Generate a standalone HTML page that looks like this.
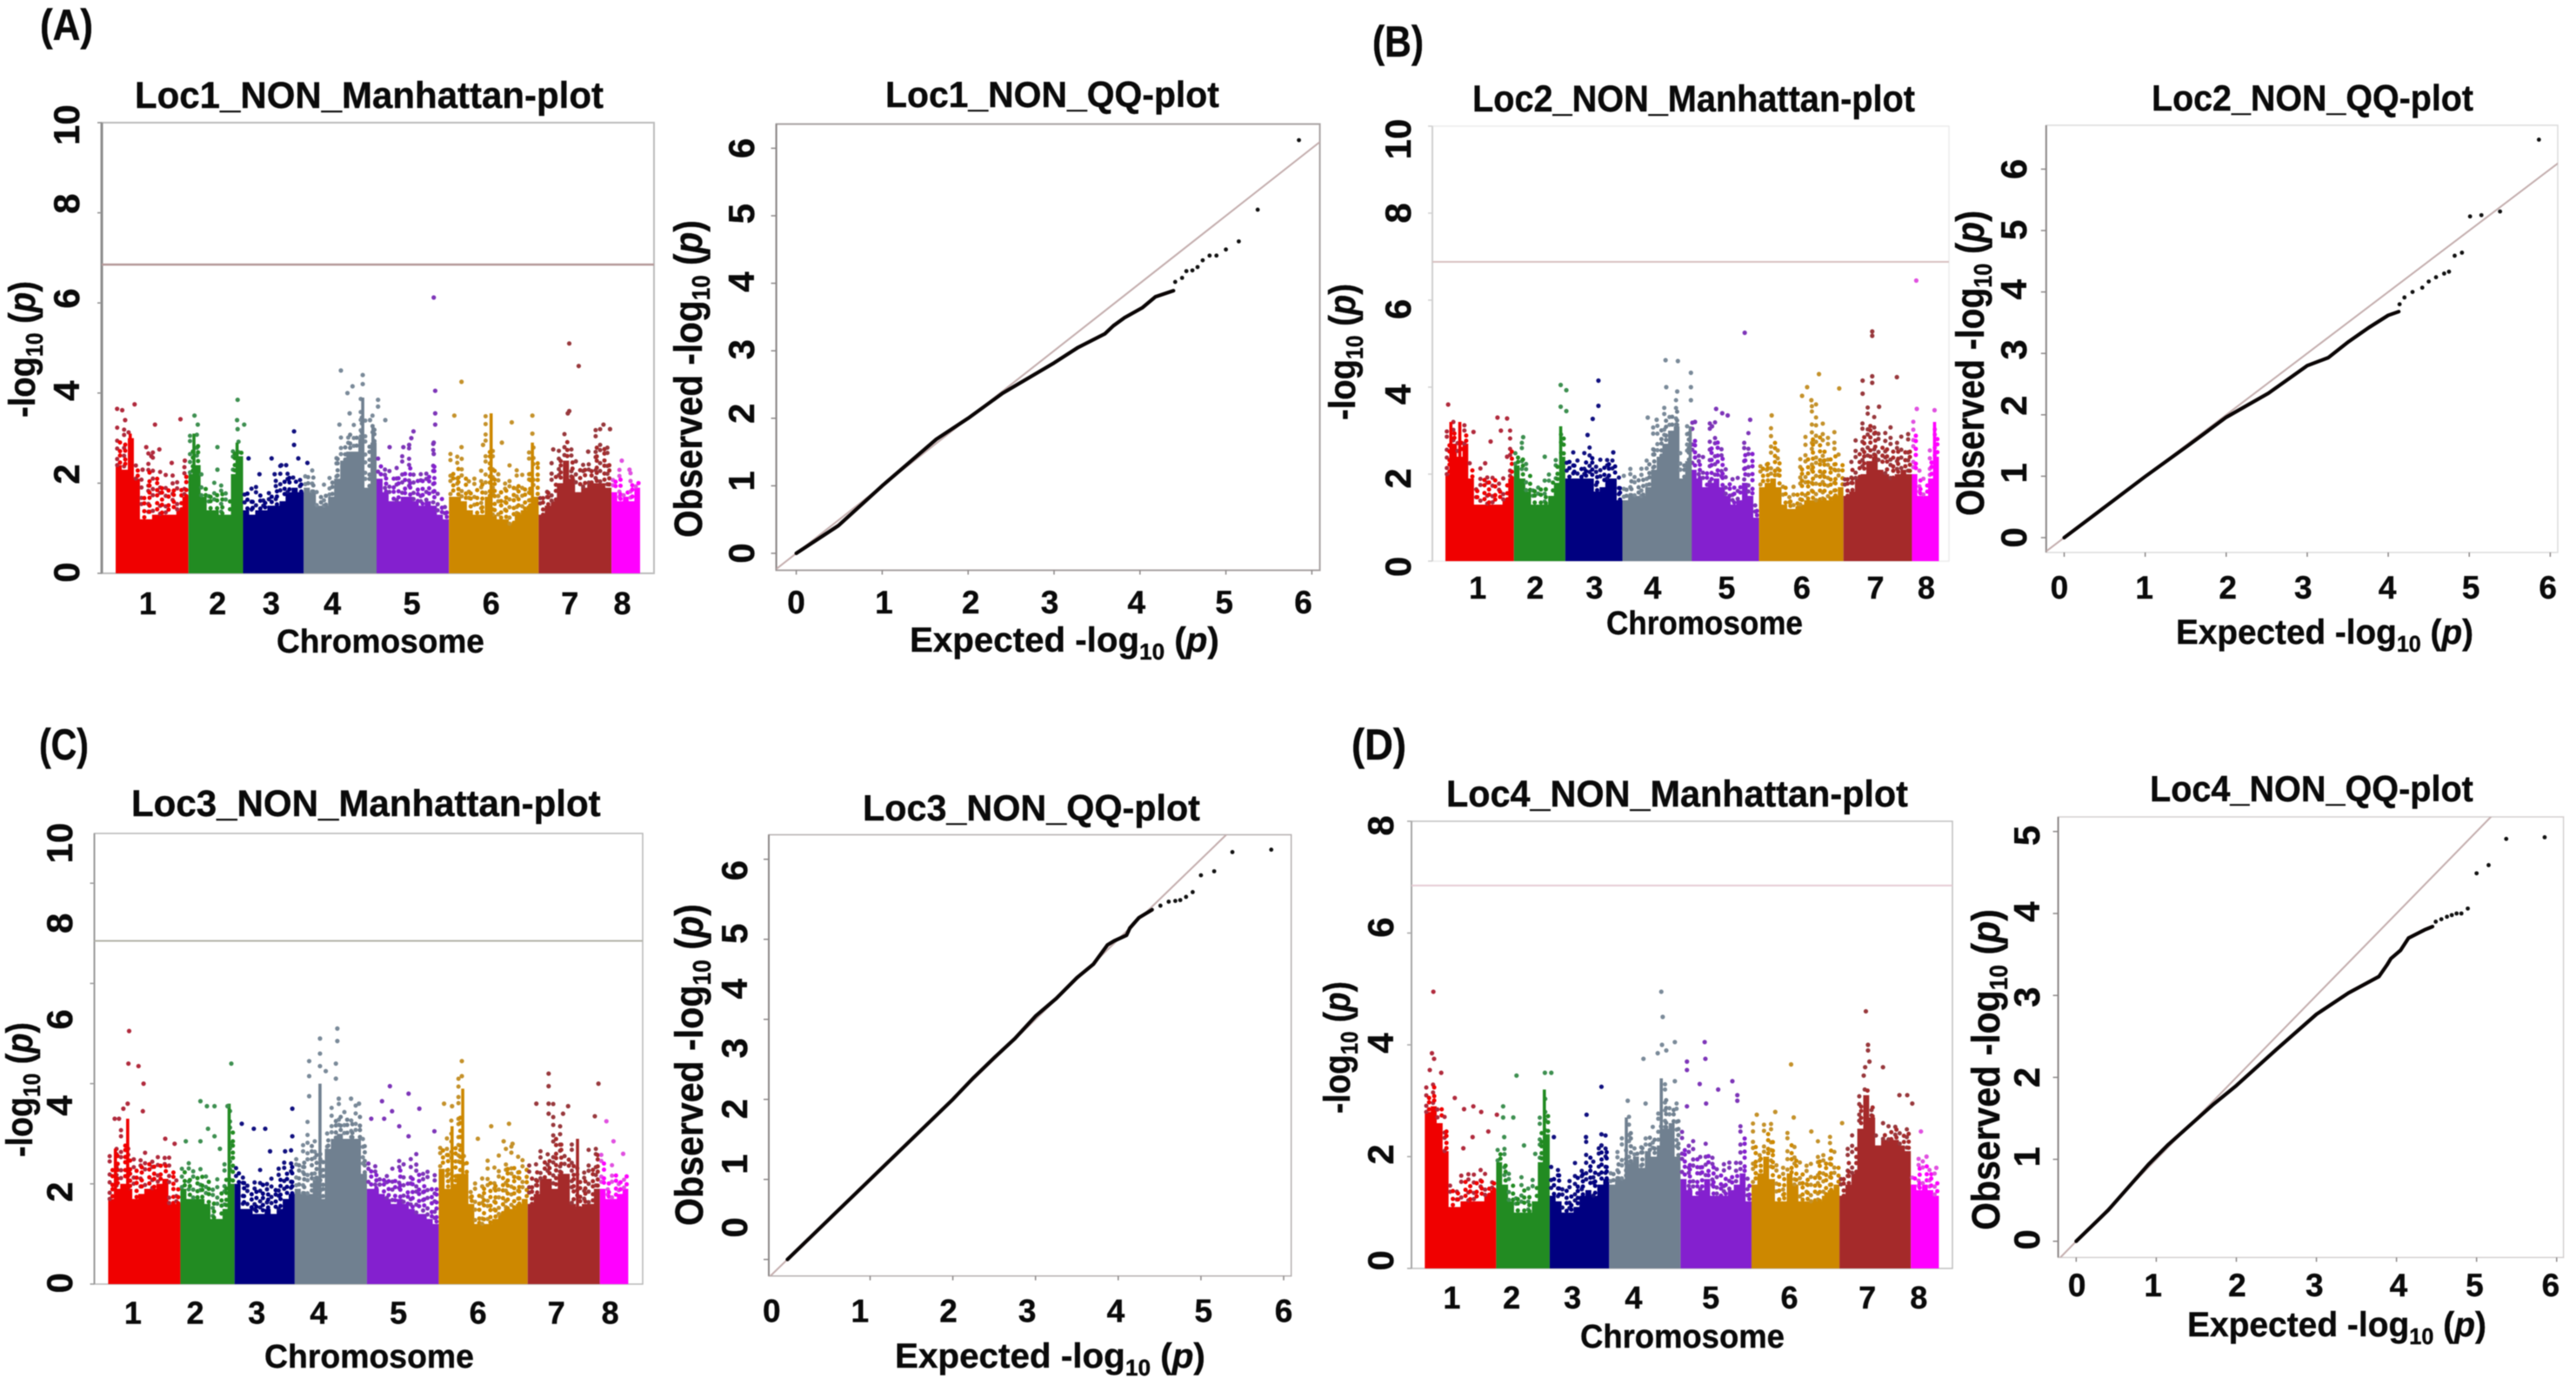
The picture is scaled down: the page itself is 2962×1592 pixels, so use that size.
<!DOCTYPE html>
<html lang="en">
<head>
<meta charset="utf-8">
<title>Manhattan and QQ plots, Loc1 to Loc4</title>
<style>
html,body{margin:0;padding:0;background:#fff;}
svg{display:block;filter:blur(0.5px);}
text{font-family:"Liberation Sans",sans-serif;font-weight:bold;fill:#0a0a0a;stroke:#0a0a0a;stroke-width:0.4px;}
</style>
</head>
<body>
<svg id="figure" xmlns="http://www.w3.org/2000/svg" width="2962" height="1592" viewBox="0 0 2962 1592">
<rect width="2962" height="1592" fill="#fff"/>

<text font-size="50" transform="translate(46,46)" data-fit="61">(A)</text>
<text font-size="50" transform="translate(1578,65)" data-fit="59">(B)</text>
<text font-size="50" transform="translate(45,873)" data-fit="57">(C)</text>
<text font-size="50" transform="translate(1554,873)" data-fit="63">(D)</text>

<text font-size="43" transform="translate(155,124)" data-fit="539">Loc1_NON_Manhattan-plot</text>
<text font-size="42" transform="translate(1018,123)" data-fit="384">Loc1_NON_QQ-plot</text>
<text font-size="43" transform="translate(1693,128)" data-fit="509">Loc2_NON_Manhattan-plot</text>
<text font-size="42" transform="translate(2474,127)" data-fit="370">Loc2_NON_QQ-plot</text>
<text font-size="43" transform="translate(151,938)" data-fit="540">Loc3_NON_Manhattan-plot</text>
<text font-size="42" transform="translate(992,943)" data-fit="388">Loc3_NON_QQ-plot</text>
<text font-size="43" transform="translate(1663,927)" data-fit="531">Loc4_NON_Manhattan-plot</text>
<text font-size="42" transform="translate(2472,921)" data-fit="372">Loc4_NON_QQ-plot</text>

<text font-size="38" transform="translate(318,750)" data-fit="239">Chromosome</text>
<text font-size="38" transform="translate(1847,729)" data-fit="226">Chromosome</text>
<text font-size="38" transform="translate(304,1572)" data-fit="241">Chromosome</text>
<text font-size="38" transform="translate(1817,1549)" data-fit="235">Chromosome</text>

<text font-size="43" transform="translate(40,480) rotate(-90)" data-fit="157">-log<tspan dy="9" font-size="28">10</tspan><tspan dy="-9"> (</tspan><tspan font-style="italic">p</tspan>)</text>
<text font-size="43" transform="translate(1558,483) rotate(-90)" data-fit="157">-log<tspan dy="9" font-size="28">10</tspan><tspan dy="-9"> (</tspan><tspan font-style="italic">p</tspan>)</text>
<text font-size="43" transform="translate(37,1330) rotate(-90)" data-fit="155">-log<tspan dy="9" font-size="28">10</tspan><tspan dy="-9"> (</tspan><tspan font-style="italic">p</tspan>)</text>
<text font-size="43" transform="translate(1552,1280) rotate(-90)" data-fit="152">-log<tspan dy="9" font-size="28">10</tspan><tspan dy="-9"> (</tspan><tspan font-style="italic">p</tspan>)</text>

<text font-size="45" transform="translate(807,618) rotate(-90)" data-fit="365">Observed -log<tspan dy="9" font-size="29">10</tspan><tspan dy="-9"> (</tspan><tspan font-style="italic">p</tspan>)</text>
<text font-size="45" transform="translate(2281,593) rotate(-90)" data-fit="351">Observed -log<tspan dy="9" font-size="29">10</tspan><tspan dy="-9"> (</tspan><tspan font-style="italic">p</tspan>)</text>
<text font-size="45" transform="translate(808,1409) rotate(-90)" data-fit="370">Observed -log<tspan dy="9" font-size="29">10</tspan><tspan dy="-9"> (</tspan><tspan font-style="italic">p</tspan>)</text>
<text font-size="45" transform="translate(2299,1414) rotate(-90)" data-fit="369">Observed -log<tspan dy="9" font-size="29">10</tspan><tspan dy="-9"> (</tspan><tspan font-style="italic">p</tspan>)</text>

<text font-size="40" transform="translate(1046,749)" data-fit="356">Expected -log<tspan dy="9" font-size="26">10</tspan><tspan dy="-9"> (</tspan><tspan font-style="italic">p</tspan>)</text>
<text font-size="40" transform="translate(2502,740)" data-fit="342">Expected -log<tspan dy="9" font-size="26">10</tspan><tspan dy="-9"> (</tspan><tspan font-style="italic">p</tspan>)</text>
<text font-size="40" transform="translate(1029,1572)" data-fit="357">Expected -log<tspan dy="9" font-size="26">10</tspan><tspan dy="-9"> (</tspan><tspan font-style="italic">p</tspan>)</text>
<text font-size="40" transform="translate(2515,1536)" data-fit="344">Expected -log<tspan dy="9" font-size="26">10</tspan><tspan dy="-9"> (</tspan><tspan font-style="italic">p</tspan>)</text>

<g id="plots"></g>
</svg>

<script>
// ---------- shared chromosome data ----------
const chromNames = ['1','2','3','4','5','6','7','8'];
const chromLengths = [168,126,140,168,167,207,168,66];
const chromColors = ['#f00000','#228b22','#000080','#708090','#8420cf','#cd8800','#a52a2a','#ff00ff'];
const peakColors = ['#b02a3c','#3d8f50','#10107f','#7a8a99','#7d35b8','#c4912a','#98383c','#e050e0'];

// ---------- Manhattan tick values and printed labels ----------
const manhattanTicksTall = [0,2,4,6,8,10];
const manhattanTicksC = [0,2,4,6,8];
const manhattanTicksD = [0,2,4,6,8];
const manhattanLabelsTall = ['0','2','4','6','8','10'];
const manhattanLabelsD = ['0','2','4','6','8'];
const manhattanLabelAtA = [0.02,2.2,4.05,6.1,8.2,9.95];
const manhattanLabelAtB = [-0.13,1.9,3.83,5.79,8.0,9.7];
const manhattanLabelAtC = [0.02,1.84,3.56,5.28,7.2,8.8];
const manhattanLabelAtD = [0.14,2.04,4.03,6.1,7.92];

// ---------- Loc1 Manhattan: solid tops, dotted fringe tops, spikes, peak points ----------
const solidA = [
 [2.4,2.3,3.0,2.1,1.2,1.2,1.3,1.3,1.3,1.3,1.4,1.7],
 [2.2,2.4,1.7,1.4,1.4,1.3,1.3,2.2,2.6],
 [1.4,1.3,1.4,1.4,1.5,1.5,1.6,1.8,1.9,1.8],
 [1.9,1.8,1.5,1.5,1.7,2.1,2.5,2.7,2.7,3.0,1.9,2.9],
 [2.1,1.8,1.6,1.6,1.7,1.7,1.6,1.5,1.6,1.5,1.3,1.2],
 [1.7,1.7,1.6,1.4,1.3,1.3,1.7,1.3,1.2,1.2,1.1,1.3,1.4,1.5,1.7],
 [1.3,1.5,1.6,2.0,2.5,2.1,1.8,1.9,2.0,2.0,2.0,1.9],
 [1.8,1.6,1.7,1.6,1.9]
];
const fringeA = [
 [3.3,3.4,3.2,2.4,2.1,2.8,2.7,2.3,2.2,2.4,2.2,2.5],
 [3.1,3.1,2.2,2.0,2.1,2.1,1.9,2.9,3.0],
 [2.0,1.9,2.0,1.9,1.9,2.2,2.4,2.3,2.2,2.1],
 [2.3,2.3,1.9,2.0,2.2,2.9,3.1,3.3,3.3,3.9,3.4,3.5],
 [2.6,2.4,2.4,2.5,2.7,2.9,2.4,2.4,2.5,3.0,1.9,1.5],
 [2.7,2.8,2.6,2.2,2.2,2.4,3.5,2.9,2.2,2.3,2.4,2.3,2.2,2.8,2.9],
 [1.9,2.1,2.6,2.9,3.2,2.9,2.6,2.6,2.7,3.3,3.2,2.8],
 [2.2,2.5,2.0,2.3,2.1]
];
const spikesA = [[1,0.2,3.1],[2,0.1,3.1],[2,0.89,2.9],[4,0.81,3.9],[4,0.95,3.3],[6,0.47,3.55],[6,0.93,2.9]];
const peaksA = [
 [1,.02,3.65],[1,.09,3.62],[1,.13,3.4],[1,.26,3.75],[1,.42,2.8],[1,.54,3.3],[1,.60,2.75],[1,.77,2.45],[1,.89,3.42],[1,.95,2.5],[1,.49,2.6],[1,.37,2.3],
 [2,.11,3.5],[2,.17,3.3],[2,.53,2.8],[2,.53,2.3],[2,.90,3.85],[2,.89,3.4],[2,1.02,3.3],[2,.9,3.2],
 [3,.09,2.55],[3,.47,2.55],[3,.84,3.15],[3,.84,2.85],[3,.91,2.55],[3,1.06,2.45],[3,.27,2.2],[3,.52,2.2],[3,.63,2.4],[3,.71,2.4],
 [4,.51,4.5],[4,.67,4.15],[4,.60,4.0],[4,.81,4.4],[4,.81,4.2],[4,1.02,3.85],[4,1.02,3.7],[4,1.12,3.4],[4,.63,3.55],[4,.49,3.3],[4,.91,3.4],
 [5,.79,6.12],[5,.81,4.05],[5,.81,3.55],[5,.81,3.3],[5,.51,3.15],[5,.48,3.0],[5,.18,2.8],[5,.37,2.8],[5,.45,2.85],[5,.79,2.9],[5,.79,2.65],
 [6,.14,4.25],[6,.06,3.5],[6,.38,2.85],[6,.59,2.9],[6,.70,3.35],[6,.93,3.5],[6,.93,3.1],[6,.14,2.8],
 [7,.42,5.1],[7,.55,4.6],[7,.42,3.6],[7,.40,3.55],[7,.89,3.3],[7,.98,3.2],[7,.68,2.7],[7,.2,2.75],
 [8,.36,2.5],[8,.63,2.3]
];

// ---------- Loc2 Manhattan ----------
const solidB = [
 [2.0,2.7,2.4,2.7,1.9,1.3,1.3,1.3,1.3,1.3,1.4,1.9],
 [2.2,1.9,1.6,1.3,1.3,1.3,1.5,1.8,2.4],
 [1.9,1.9,1.9,1.9,1.9,1.6,1.7,1.9,1.9,1.4],
 [1.4,1.5,1.5,1.5,1.7,2.1,2.4,2.7,3.0,3.1,1.9,2.3],
 [2.1,1.9,1.7,1.8,1.9,1.7,1.5,1.3,1.4,1.8,1.5,1.0],
 [1.7,1.8,1.9,1.7,1.3,1.2,1.2,1.3,1.4,1.4,1.4,1.4,1.4,1.5,1.7],
 [1.5,1.6,1.9,2.0,2.3,2.4,2.1,2.0,1.9,2.0,2.1,2.0],
 [2.0,1.5,1.5,1.9,2.4]
];
const fringeB = [
 [3.2,3.2,3.0,3.2,2.3,1.9,2.3,2.1,2.2,2.0,2.0,3.0],
 [2.6,2.8,2.3,1.8,1.9,1.9,2.1,2.4,3.1],
 [2.5,2.5,2.4,2.6,2.8,2.2,2.4,2.6,2.5,2.0],
 [2.0,2.2,2.2,2.2,2.6,3.1,3.4,3.6,3.5,3.7,2.5,3.3],
 [3.2,2.6,2.4,3.3,3.3,2.8,2.2,2.0,2.0,2.9,3.0,1.4],
 [2.4,2.5,3.3,2.6,1.9,1.6,1.9,2.6,3.0,3.6,3.7,3.2,2.9,3.0,2.5],
 [2.2,2.4,2.9,3.5,3.6,3.4,3.0,3.0,3.1,2.8,2.9,3.0],
 [3.5,2.1,1.9,2.6,3.2]
];
const spikesB = [[1,0.08,3.2],[1,0.21,3.2],[2,0.91,3.1],[4,0.99,3.1],[8,0.84,3.2]];
const peaksB = [
 [1,.04,3.6],[1,.41,2.97],[1,.66,2.75],[1,.76,3.3],[1,.90,3.28],[1,.81,3.0],[1,.58,2.25],[1,.9,2.4],
 [2,.91,4.05],[2,1.02,3.93],[2,.91,3.55],[2,1.02,3.45],[2,.18,2.85],[2,.6,2.4],
 [3,.58,4.15],[3,.58,3.57],[3,.48,3.27],[3,.39,2.9],[3,.84,2.5],
 [4,.63,4.62],[4,.81,4.6],[4,1.0,4.33],[4,1.0,4.0],[4,.64,4.0],[4,.80,3.9],[4,.37,3.3],[4,.5,3.25],[4,1.0,3.7],
 [5,.37,3.5],[5,.54,3.35],[5,.87,3.25],[5,.31,3.1],[5,.46,3.4],[5,.06,3.2],[5,.79,5.25],
 [6,.71,4.3],[6,.57,4.0],[6,.51,3.8],[6,.95,3.97],[6,.15,3.35],[6,.62,3.7],
 [7,.42,5.28],[7,.42,5.18],[7,.42,4.25],[7,.42,4.1],[7,.28,4.15],[7,.28,3.85],[7,.78,4.23],[7,.52,3.55],
 [8,.16,6.45],[8,.18,3.5],[8,.84,3.47]
];

// ---------- Loc3 Manhattan ----------
const solidC = [
 [1.7,1.9,2.0,1.9,1.7,1.8,1.9,1.9,2.0,2.1,1.6,1.6],
 [1.9,1.7,1.7,1.7,1.6,1.3,1.3,1.5,2.0],
 [2.0,1.5,1.5,1.4,1.4,1.5,1.4,1.5,1.7,1.8],
 [1.9,1.8,1.8,2.1,1.7,2.7,2.9,3.0,2.9,2.9,2.9,2.2],
 [1.9,1.9,1.8,1.7,1.6,1.7,1.6,1.5,1.4,1.4,1.3,1.2],
 [2.3,1.9,2.0,2.2,2.2,1.6,1.2,1.2,1.2,1.3,1.4,1.5,1.5,1.6,1.7],
 [1.6,1.8,2.1,2.1,1.9,2.2,2.2,1.6,1.5,1.6,1.6,1.9],
 [1.9,1.7,1.7,1.8,1.9]
];
const fringeC = [
 [2.7,3.0,3.2,2.8,2.6,2.7,2.7,2.7,2.7,2.7,2.7,2.1],
 [2.5,2.5,2.4,2.4,2.3,1.9,2.1,2.5,3.6],
 [2.4,2.3,2.1,2.1,2.3,2.1,2.2,2.4,2.6,2.7],
 [2.7,2.8,3.3,2.9,2.9,3.1,3.6,3.7,3.5,3.4,3.6,3.1],
 [2.5,2.4,2.4,2.3,2.4,2.6,2.4,2.6,2.6,2.4,2.3,2.3],
 [2.9,3.0,3.3,4.1,2.7,2.0,2.1,2.3,2.5,2.4,2.6,2.8,2.8,2.6,2.6],
 [2.5,2.5,2.7,2.7,3.6,3.3,2.8,2.8,2.5,2.4,2.7,3.0],
 [2.7,2.2,2.5,2.2,2.3]
];
const spikesC = [[1,0.27,3.3],[1,0.1,2.7],[2,0.9,3.6],[4,0.35,4.0],[6,0.27,3.9],[6,0.15,3.15],[7,0.69,2.9]];
const peaksC = [
 [1,.29,5.05],[1,.28,4.4],[1,.42,4.35],[1,.49,4.0],[1,.27,3.6],[1,.21,3.5],[1,.48,3.45],[1,.09,3.3],[1,.15,3.3],[1,.79,2.9],[1,.92,2.8],
 [2,.94,4.4],[2,.37,3.65],[2,.49,3.55],[2,.63,3.55],[2,.87,3.55],[2,.51,3.1],[2,.63,2.95],[2,.1,2.85],[2,.37,2.85],[2,.73,2.7],
 [3,.96,3.5],[3,.12,3.2],[3,.32,3.1],[3,.51,3.1],[3,.96,2.95],[3,.59,2.65],[3,.84,2.65],
 [4,.35,4.9],[4,.35,4.6],[4,.35,4.35],[4,.2,4.45],[4,.2,4.15],[4,.2,3.75],[4,.59,5.1],[4,.59,4.85],[4,.57,4.4],[4,.57,4.1],[4,.43,4.25],[4,.78,3.7],[4,.61,3.7],[4,.89,3.6],
 [5,.32,3.95],[5,.58,3.8],[5,.21,3.65],[5,.35,3.45],[5,.73,3.5],[5,.06,3.3],[5,.45,3.15],[5,.58,2.95],[5,.94,3.05],[5,.24,3.3],
 [6,.26,4.45],[6,.26,4.15],[6,.06,3.6],[6,.15,3.55],[6,.59,3.15],[6,.79,3.2],[6,.44,2.9],[6,.73,2.85],[6,.83,2.8],
 [7,.29,4.2],[7,.29,3.95],[7,.12,3.6],[7,.29,3.6],[7,.29,3.4],[7,.56,3.55],[7,.49,3.4],[7,.98,4.0],[7,.93,3.35],
 [8,.23,3.25],[8,.48,2.85],[8,.82,2.6]
];

// ---------- Loc4 Manhattan ----------
const solidD = [
 [2.8,2.9,2.6,2.1,1.1,1.1,1.2,1.2,1.2,1.2,1.3,1.4],
 [1.9,1.5,1.2,1.0,1.0,1.0,1.2,1.9,2.4],
 [1.3,1.2,1.0,1.0,1.1,1.3,1.4,1.3,1.5,1.6],
 [1.5,1.6,1.6,1.9,2.0,1.8,2.1,2.0,2.2,2.5,2.6,2.0],
 [1.6,1.4,1.3,1.4,1.6,1.3,1.3,1.3,1.4,1.5,1.7,1.2],
 [1.5,1.7,2.0,1.6,1.2,1.2,1.7,1.5,1.2,1.2,1.2,1.2,1.3,1.4,1.5],
 [1.3,1.5,1.7,2.5,3.1,2.7,2.2,2.3,2.3,2.3,2.2,2.1],
 [1.5,1.4,1.5,1.4,1.3]
];
const fringeD = [
 [3.4,3.5,3.0,2.8,1.6,1.6,1.8,1.8,1.8,1.8,1.7,1.8],
 [2.2,2.2,1.7,1.4,1.7,1.5,1.7,2.7,3.1],
 [1.9,2.0,1.6,1.6,1.9,2.0,2.3,2.0,2.4,2.4],
 [1.9,2.1,2.4,2.8,2.2,2.4,2.5,2.6,2.9,3.4,3.0,3.0],
 [2.6,2.3,2.4,2.1,2.3,2.1,1.9,1.9,1.9,1.9,2.8,1.7],
 [2.7,2.2,2.7,2.7,1.9,1.9,2.6,2.3,2.0,1.9,1.9,2.3,2.3,2.5,2.1],
 [1.8,2.2,2.4,3.2,3.3,3.0,2.4,2.6,2.6,2.7,2.5,2.7],
 [1.7,2.0,2.0,1.9,1.7]
];
const spikesD = [[2,0.9,3.2],[4,0.24,2.7],[4,0.73,3.4]];
const peaksD = [
 [1,.12,4.95],[1,.10,3.85],[1,.13,3.75],[1,.07,3.55],[1,.23,3.5],[1,.42,3.05],[1,.55,2.85],[1,.68,2.9],[1,.79,2.8],[1,1.01,2.75],[1,.67,2.35],[1,.89,2.45],[1,.54,2.15],
 [2,.38,3.45],[2,.91,3.5],[2,1.03,3.5],[2,.13,2.9],[2,.13,2.7],[2,.32,2.7],[2,.15,2.35],[2,.52,2.2],[2,.73,2.05],
 [3,.87,3.25],[3,.62,2.75],[3,.61,2.35],[3,.87,2.4],[3,.87,2.2],[3,.07,2.35],
 [4,.73,4.95],[4,.75,4.5],[4,.92,4.05],[4,.74,4.0],[4,.80,3.9],[4,.48,3.75],[4,.68,3.85],[4,.26,3.0],[4,.51,2.95],[4,.92,3.35],
 [5,.34,4.05],[5,.35,3.75],[5,.09,3.7],[5,.09,3.55],[5,.27,3.3],[5,.53,3.2],[5,.73,3.35],[5,.80,3.1],[5,.36,2.95],[5,.09,2.9],[5,.8,3.0],
 [6,.45,3.65],[6,.27,2.8],[6,.48,2.7],[6,1.03,2.6],[6,.68,2.45],[6,.06,2.75],
 [7,.37,4.6],[7,.40,4.0],[7,.40,3.9],[7,.42,3.7],[7,.36,3.6],[7,.61,3.6],[7,.34,3.45],[7,.84,3.1],[7,.95,3.1],[7,1.02,2.95],
 [8,.36,2.45],[8,.56,2.0],[8,.91,1.8]
];

// ---------- QQ tick values and printed labels ----------
const qqXTicks = [0,1,2,3,4,5,6];
const qqYTicksA = [0,1,2,3,4,5,6];
const qqYTicksB = [0,1,2,3,4,5,6];
const qqYTicksC = [0,1,2,3,4,5];
const qqYTicksD = [0,1,2,3,4,5];
const qqXTicksC = [1,2,3,4,5,6];
const qqXLabels = ['0','1','2','3','4','5','6'];
const qqYLabels6 = ['0','1','2','3','4','5','6'];
const qqYLabels5 = ['0','1','2','3','4','5'];
const qqXLabelAtA = [0,1.02,2.03,2.95,3.96,4.98,5.9];
const qqYLabelAtA = [0,1.07,2.07,3.02,4.02,5.03,6.0];
const qqXLabelAtB = [-0.06,.99,2.02,2.95,3.99,5.02,5.97];
const qqYLabelAtB = [0,1.05,2.15,3.06,4.04,5.01,6.0];
const qqXLabelAtC = [-0.19,.877,1.947,2.9,3.97,5.03,6.0];
const qqYLabelAtC = [.4,1.19,1.88,2.64,3.38,4.07,4.86];
const qqXLabelAtD = [.01,.96,2.01,2.975,4.025,4.975,5.925];
const qqYLabelAtD = [.02,1.03,2.0,2.98,4.02,4.95];

// ---------- QQ curves: dense body, then separate tail points ----------
const expectedA = [0,.49,1.0,1.63,2,2.4,3,3.28,3.59,3.69,3.82,4.03,4.18,4.39];
const observedA = [0,.41,1.0,1.69,2,2.37,2.82,3.05,3.25,3.37,3.49,3.64,3.80,3.89];
const tailExpectedA = [4.41,4.49,4.54,4.61,4.67,4.73,4.81,4.89,5.0,5.15,5.37,5.85];
const tailObservedA = [4.02,4.08,4.18,4.19,4.24,4.34,4.41,4.41,4.50,4.62,5.09,6.12];

const expectedB = [0,1.0,1.53,2.0,2.52,3.0,3.26,3.51,3.76,4.0,4.13];
const observedB = [0,.995,1.50,1.96,2.35,2.80,2.93,3.19,3.42,3.62,3.68];
const tailExpectedB = [4.14,4.20,4.30,4.42,4.50,4.59,4.69,4.75,4.82,4.91,5.01,5.15,5.38,5.86];
const tailObservedB = [3.80,3.91,4.0,4.07,4.17,4.24,4.30,4.33,4.59,4.64,5.23,5.25,5.31,6.48];

const expectedC = [0,.25,.5,.75,1,1.25,1.5,1.75,2,2.25,2.5,2.75,3,3.25,3.5,3.7,3.87,3.95,4.1,4.14,4.25,4.41];
const observedC = [0,.25,.5,.75,1,1.25,1.5,1.75,2,2.27,2.52,2.76,3.04,3.26,3.52,3.69,3.93,3.98,4.05,4.14,4.27,4.37];
const tailExpectedC = [4.51,4.61,4.69,4.75,4.82,4.90,5.0,5.16,5.38,5.85];
const tailObservedC = [4.42,4.47,4.48,4.49,4.53,4.59,4.80,4.85,5.09,5.12];

const expectedD = [0,.4,.9,1.15,1.7,2.0,2.5,3.0,3.4,3.78,3.88,3.93,4.05,4.15,4.35,4.45];
const observedD = [0,.38,.935,1.18,1.66,1.9,2.34,2.77,3.03,3.23,3.37,3.45,3.55,3.70,3.80,3.84];
const tailExpectedD = [4.49,4.56,4.63,4.69,4.75,4.81,4.89,5.0,5.15,5.37,5.85];
const tailObservedD = [3.90,3.93,3.96,3.98,4.0,4.0,4.06,4.49,4.59,4.91,4.93];

// ---------- layout (pixels, separate from the data) ----------
const manhattanLayouts = [
 {id:'loc1',left:117,right:752,top:141,bottom:659,unit:51.8,xStart:133,xEnd:736,threshold:6.85,thresholdColor:'#b59a9a',thresholdWidth:2.5,leftColor:'#8e8e8e',leftWidth:3,frameColor:'#bdbdbd',frameWidth:2,labelBase:91,chrBase:706,
  chrNudge:[-5,2,-2.5,-9,-1,-3,-6,-4],solid:solidA,fringe:fringeA,spikes:spikesA,peaks:peaksA,ticks:manhattanTicksTall,labels:manhattanLabelsTall,labelAt:manhattanLabelAtA},
 {id:'loc2',left:1647,right:2241,top:145,bottom:645,unit:50,xStart:1662,xEnd:2229.4,threshold:6.88,thresholdColor:'#d8c2c2',thresholdWidth:2,leftColor:'#d0d0d0',leftWidth:2,frameColor:'#ececec',frameWidth:1.5,labelBase:1622,chrBase:688,
  chrNudge:[-2.3,-5,.7,-4.7,2,.7,-2.6,1],solid:solidB,fringe:fringeB,spikes:spikesB,peaks:peaksB,ticks:manhattanTicksTall,labels:manhattanLabelsTall,labelAt:manhattanLabelAtB},
 {id:'loc3',left:108.5,right:739,top:958,bottom:1476,unit:57.6,xStart:124.4,xEnd:722.4,threshold:6.85,thresholdColor:'#b3b3aa',thresholdWidth:2,leftColor:'#9a9a9a',leftWidth:2,frameColor:'#b8b8b8',frameWidth:1.5,labelBase:83,chrBase:1521.6,
  chrNudge:[-13,-14,-9,-14,-5,-6,-8.5,-4.5],solid:solidC,fringe:fringeC,spikes:spikesC,peaks:peaksC,ticks:manhattanTicksC,labels:manhattanLabelsTall,labelAt:manhattanLabelAtC},
 {id:'loc4',left:1623,right:2245,top:944,bottom:1458,unit:64.25,xStart:1638.3,xEnd:2229.4,threshold:6.85,thresholdColor:'#e6ccd4',thresholdWidth:2,leftColor:'#a8a8a8',leftWidth:2,frameColor:'#c0c0c0',frameWidth:1.5,labelBase:1602,chrBase:1504,
  chrNudge:[-10,-13,-8,-13,-6,-7,-9,-7],solid:solidD,fringe:fringeD,spikes:spikesD,peaks:peaksD,ticks:manhattanTicksD,labels:manhattanLabelsD,labelAt:manhattanLabelAtD}
];
const qqLayouts = [
 {id:'loc1',left:892.6,right:1517.6,top:142.6,bottom:655.5,x0:915.6,xUnit:98.8,y0:636,yUnit:77.6,frameColor:'#a9a3a3',frameWidth:2,yLabelBase:867,xLabelBase:705,
  expected:expectedA,observed:observedA,tailX:tailExpectedA,tailY:tailObservedA,xTicks:qqXTicks,yTicks:qqYTicksA,xLabelAt:qqXLabelAtA,yLabelAt:qqYLabelAtA,yLabels:qqYLabels6},
 {id:'loc2',left:2352.8,right:2941,top:144,bottom:635,x0:2373.5,xUnit:93.15,y0:618,yUnit:70.6,frameColor:'#dcdcdc',frameWidth:1.5,yLabelBase:2330,xLabelBase:688,
  expected:expectedB,observed:observedB,tailX:tailExpectedB,tailY:tailObservedB,xTicks:qqXTicks,yTicks:qqYTicksB,xLabelAt:qqXLabelAtB,yLabelAt:qqYLabelAtB,yLabels:qqYLabels6},
 {id:'loc3',left:884,right:1484.7,top:959.5,bottom:1466.7,x0:905.4,xUnit:95.1,y0:1447.7,yUnit:92,frameColor:'#b5b0b0',frameWidth:1.5,yLabelBase:859,xLabelBase:1519.4,
  expected:expectedC,observed:observedC,tailX:tailExpectedC,tailY:tailObservedC,xTicks:qqXTicksC,yTicks:qqYTicksC,xLabelAt:qqXLabelAtC,yLabelAt:qqYLabelAtC,yLabels:qqYLabels6},
 {id:'loc4',left:2366.6,right:2947.6,top:939,bottom:1445.4,x0:2387.3,xUnit:92.08,y0:1426.8,yUnit:94.2,frameColor:'#d4d0d0',frameWidth:1.5,yLabelBase:2345,xLabelBase:1490,
  expected:expectedD,observed:observedD,tailX:tailExpectedD,tailY:tailObservedD,xTicks:qqXTicks,yTicks:qqYTicksD,xLabelAt:qqXLabelAtD,yLabelAt:qqYLabelAtD,yLabels:qqYLabels5}
];

const NS = 'http://www.w3.org/2000/svg';
const root = document.getElementById('plots');
const genomeTotal = chromLengths.reduce(function(a,b){return a+b;},0);
const dashFull = '0.01 7 0.01 12 0.01 9 0.01 15 0.01 6 0.01 18';
const dashLow = '0.01 6 0.01 8 0.01 5 0.01 10 0.01 7 0.01 9';

function make(parent, tag, attrs){
  const el = document.createElementNS(NS, tag);
  for (const k in attrs) el.setAttribute(k, attrs[k]);
  parent.appendChild(el);
  return el;
}

function drawManhattan(L){
  const g = make(root,'g',{});
  
  
  const yScale = function(v){ return L.bottom - v * L.unit; };
  const scale = (L.xEnd - L.xStart) / genomeTotal;
  const chromStart = function(c){
    let s = 0;
    for (let i = 0; i < c; i++) s += chromLengths[i];
    return L.xStart + s * scale;
  };
  const xScale = function(c, f){ return chromStart(c) + f * chromLengths[c] * scale; };

  // frame
  const frame = make(g,'rect',{x:L.left,y:L.top,width:L.right-L.left,height:L.bottom-L.top,fill:'none',stroke:L.frameColor,'stroke-width':L.frameWidth});
  
  
  const axis = make(g,'line',{x1:L.left,x2:L.left,y1:L.top,y2:L.bottom,stroke:L.leftColor,'stroke-width':L.leftWidth});
  
  

  // y ticks and labels
  L.ticks.forEach(function(v){
    const tick = make(g,'line',{x1:L.left-5,x2:L.left,y1:yScale(v),y2:yScale(v),stroke:L.leftColor,'stroke-width':1.5});
    
    
  });
  L.labels.forEach(function(txt,i){
    const y = yScale(L.labelAt[i]);
    const lab = make(g,'text',{'font-size':42,'text-anchor':'middle',transform:'translate('+L.labelBase+','+y+') rotate(-90)'});
    lab.textContent = txt;
    
    
  });

  // chromosomes
  chromNames.forEach(function(name,c){
    const color = chromColors[c];
    const solid = L.solid[c];
    const fringe = L.fringe[c];
    const n = solid.length;
    const group = make(g,'g',{});
    
    

    let d = 'M' + xScale(c,0) + ' ' + L.bottom;
    solid.forEach(function(v,i){
      d += 'L' + xScale(c,i/n) + ' ' + yScale(v) + 'L' + xScale(c,(i+1)/n) + ' ' + yScale(v);
    });
    d += 'L' + xScale(c,1) + ' ' + L.bottom + 'Z';
    const area = make(group,'path',{d:d,fill:color});
    
    

    fringe.forEach(function(v,i){
      const s = solid[i];
      const y1 = yScale(s);
      const yA = yScale(v);
      const yB = yScale(s + (v - s) * 0.65);
      const nudge = [0, 0.14, -0.12, 0.08][i % 4];
      const colA = make(group,'line',{x1:xScale(c,(i+0.25+nudge)/n),x2:xScale(c,(i+0.25+nudge)/n),y1:y1,y2:yA,stroke:peakColors[c],'stroke-width':5,'stroke-linecap':'round','stroke-dasharray':dashFull,'stroke-dashoffset':(i*i*3.1+c*5)%67});
      
      
      const colB = make(group,'line',{x1:xScale(c,(i+0.72-nudge)/n),x2:xScale(c,(i+0.72-nudge)/n),y1:y1,y2:yB,stroke:color,'stroke-width':5,'stroke-linecap':'round','stroke-dasharray':dashLow,'stroke-dashoffset':(i*i*4.3+c*7+3)%45});
      
      
    });

    const lab = make(g,'text',{'font-size':36,'text-anchor':'middle',x:(xScale(c,0)+xScale(c,1))/2+L.chrNudge[c],y:L.chrBase});
    lab.textContent = name;
    
    
  });

  // narrow solid spikes
  L.spikes.forEach(function(s){
    const c = s[0]-1;
    const spike = make(g,'line',{x1:xScale(c,s[1]),x2:xScale(c,s[1]),y1:L.bottom,y2:yScale(s[2]),stroke:chromColors[c],'stroke-width':3.6});
    
    
  });

  // individual peak points
  L.peaks.forEach(function(p){
    const c = p[0]-1;
    const dot = make(g,'circle',{cx:xScale(c,p[1]),cy:yScale(p[2]),r:2.6,fill:peakColors[c]});
    
    
  });

  // threshold
  const th = make(g,'line',{x1:L.left,x2:L.right,y1:yScale(L.threshold),y2:yScale(L.threshold),stroke:L.thresholdColor,'stroke-width':L.thresholdWidth});
  
  
}

function drawQQ(L){
  const g = make(root,'g',{});
  
  
  const xScale = function(v){ return L.x0 + v * L.xUnit; };
  const yScale = function(v){ return L.y0 - v * L.yUnit; };

  const clip = make(g,'clipPath',{id:'clip-'+L.id});
  make(clip,'rect',{x:L.left,y:L.top,width:L.right-L.left,height:L.bottom-L.top});

  const frame = make(g,'rect',{x:L.left,y:L.top,width:L.right-L.left,height:L.bottom-L.top,fill:'none',stroke:L.frameColor,'stroke-width':L.frameWidth});
  
  
  const yAxis = make(g,'line',{x1:L.left,x2:L.left,y1:L.top,y2:L.bottom,stroke:'#8c8888','stroke-width':2});
  
  

  L.xTicks.forEach(function(v){
    const t = make(g,'line',{x1:xScale(v),x2:xScale(v),y1:L.bottom,y2:L.bottom+5,stroke:'#8c8888','stroke-width':1.5});
    
    
  });
  L.yTicks.forEach(function(v){
    const t = make(g,'line',{x1:L.left-6,x2:L.left,y1:yScale(v),y2:yScale(v),stroke:'#8c8888','stroke-width':1.5});
    
    
  });
  qqXLabels.forEach(function(txt,i){
    const lab = make(g,'text',{'font-size':37,'text-anchor':'middle',x:xScale(L.xLabelAt[i]),y:L.xLabelBase});
    lab.textContent = txt;
    
    
  });
  L.yLabels.forEach(function(txt,i){
    const lab = make(g,'text',{'font-size':42,'text-anchor':'middle',transform:'translate('+L.yLabelBase+','+yScale(L.yLabelAt[i])+') rotate(-90)'});
    lab.textContent = txt;
    
    
  });

  const ref = make(g,'line',{x1:xScale(-1),y1:yScale(-1),x2:xScale(8),y2:yScale(8),stroke:'#c4aeae','stroke-width':2,'clip-path':'url(#clip-'+L.id+')'});
  
  

  const pts = L.expected.map(function(v,i){ return xScale(v) + ',' + yScale(L.observed[i]); }).join(' ');
  const curve = make(g,'polyline',{points:pts,fill:'none',stroke:'#0a0505','stroke-width':4.2,'stroke-linejoin':'round','stroke-linecap':'round'});
  
  

  L.tailX.forEach(function(v,i){
    const dot = make(g,'circle',{cx:xScale(v),cy:yScale(L.tailY[i]),r:2.4,fill:'#111'});
    
    
  });
}

manhattanLayouts.forEach(drawManhattan);
qqLayouts.forEach(drawQQ);

// stretch the inline titles to their measured widths
document.querySelectorAll('text[data-fit]').forEach(function(t){
  const len = t.getComputedTextLength();
  const sx = parseFloat(t.getAttribute('data-fit')) / len;
  t.setAttribute('transform', t.getAttribute('transform') + ' scale(' + sx + ',1)');
});
</script>
</body>
</html>
